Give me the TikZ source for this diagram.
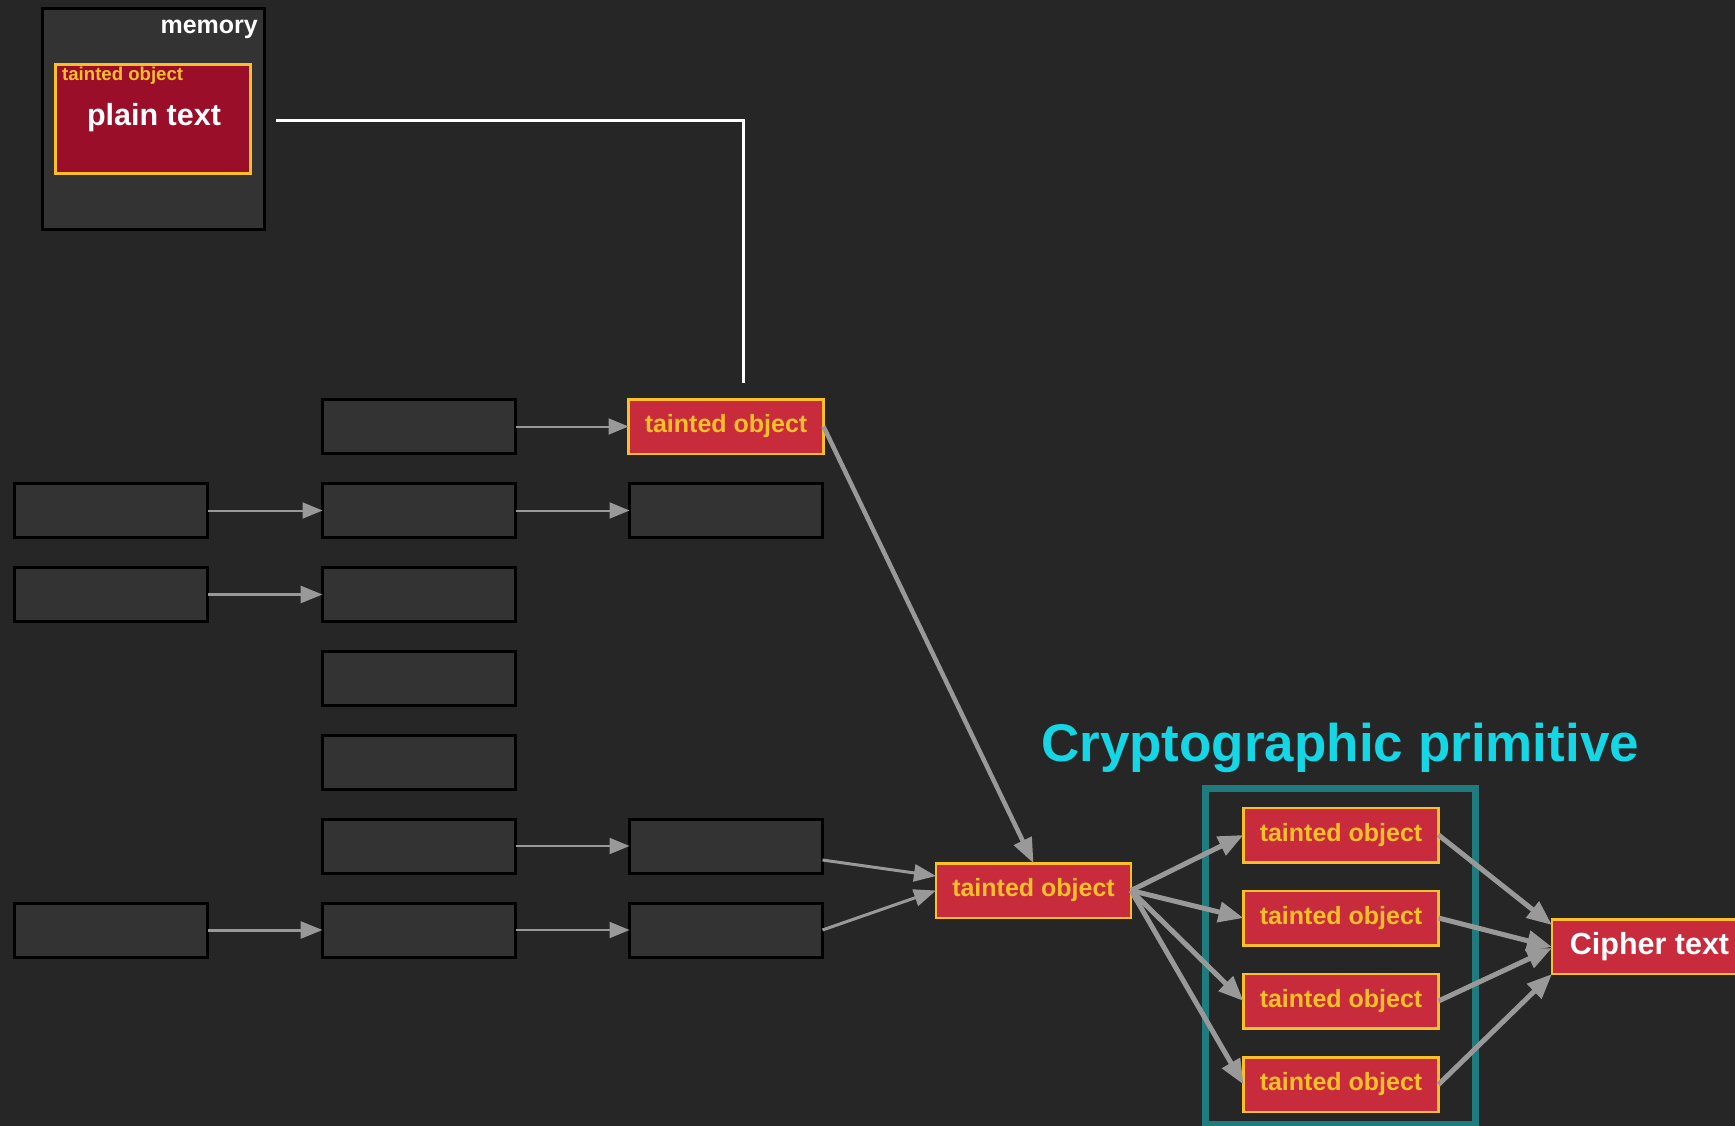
\documentclass[tikz,border=0pt]{standalone}
\usepackage{fontspec}
\setmainfont{Liberation Sans}
\usetikzlibrary{arrows.meta,calc}

\definecolor{bg}{HTML}{262626}
\definecolor{cellfill}{HTML}{333333}
\definecolor{taintred}{HTML}{C82B3B}
\definecolor{taintgold}{HTML}{FBBF2A}
\definecolor{memred}{HTML}{9B0E2A}
\definecolor{clusterteal}{HTML}{1E7B7E}
\definecolor{titlecyan}{HTML}{14D6E5}
\definecolor{edgegray}{HTML}{999999}

\begin{document}
\begin{tikzpicture}[x=1pt,y=-1pt,
  cell/.style={draw=black, line width=3pt, fill=cellfill,
    minimum width=193pt, minimum height=54pt, inner sep=0pt, outer sep=0pt},
  taint/.style={draw=taintgold, line width=2.5pt, fill=taintred, text=taintgold,
    font=\fontsize{25}{30}\selectfont\bfseries,
    minimum width=195pt, minimum height=54.5pt, inner sep=0pt, outer sep=0pt},
  thin edge/.style={draw=edgegray, line width=2pt, -{Triangle[length=20pt,width=16pt]}},
  mid edge/.style={draw=edgegray, line width=3pt, -{Triangle[length=22pt,width=17pt]}},
  thick edge/.style={draw=edgegray, line width=5pt, -{Triangle[length=25pt,width=20pt]}},
]
% canvas
\useasboundingbox (0,0) rectangle (1735,1126);
\fill[bg] (0,0) rectangle (1735,1126);

% memory block holding the plain text
\node[draw=black, line width=3pt, fill=cellfill, minimum width=222pt, minimum height=221pt,
  inner sep=0pt, outer sep=0pt] (mem) at (153.5,119) {};
\node[draw=taintgold, line width=3pt, fill=memred, minimum width=195pt, minimum height=109pt,
  inner sep=0pt, outer sep=0pt] (memobj) at (153,119) {};
\node[anchor=base east, text=white, font=\fontsize{25}{30}\selectfont\bfseries, inner sep=0pt]
  (memlabel) at (258,34) {memory};
\node[anchor=base west, text=taintgold, font=\fontsize{18.6}{22}\selectfont\bfseries, inner sep=0pt]
  (memtag) at (62,81) {tainted object};
\node[anchor=base, text=white, font=\fontsize{30.5}{36}\selectfont\bfseries, inner sep=0pt]
  (plain) at (154,126) {plain text};

% first column
\node[cell] (c12) at (111,510.5) {};
\node[cell] (c13) at (111,594.5) {};
\node[cell] (c17) at (111,930) {};

% second column
\node[cell] (c21) at (419,426.5) {};
\node[cell] (c22) at (419,510.5) {};
\node[cell] (c23) at (419,594.5) {};
\node[cell] (c24) at (419,678.5) {};
\node[cell] (c25) at (419,762.5) {};
\node[cell] (c26) at (419,846) {};
\node[cell] (c27) at (419,930) {};

% third column
\node[taint] (t1) at (726,426.5) {tainted object};
\node[cell] (c32) at (726,510.5) {};
\node[cell] (c36) at (726,846) {};
\node[cell] (c37) at (726,930) {};

% link from memory to the tainted object
\coordinate (wireStart) at (276,120.5);
\coordinate (wireEnd) at (743.5,383);
\draw[white, line width=3pt] (wireStart) -| (wireEnd);

% merging node
\node[taint] (cen) at (1033.5,890.5) {tainted object};

% cryptographic primitive cluster
\node[draw=clusterteal, line width=7pt, minimum width=270pt, minimum height=336.5pt,
  inner sep=0pt, outer sep=0pt] (cluster) at (1340.5,956.25) {};
\node[anchor=base west, text=titlecyan, font=\fontsize{53}{60}\selectfont\bfseries, inner sep=0pt]
  (title) at (1041,761) {Cryptographic primitive};
\node[taint] (p1) at (1341,835) {tainted object};
\node[taint] (p2) at (1341,918) {tainted object};
\node[taint] (p3) at (1341,1001) {tainted object};
\node[taint] (p4) at (1341,1084.5) {tainted object};

% output
\node[taint, text=white, font=\fontsize{30.5}{36}\selectfont\bfseries] (cipher) at (1649.5,946.5) {Cipher text};

% column-to-column edges
\draw[thin edge] (c12.east) -- (c22.west);
\draw[mid edge] (c13.east) -- (c23.west);
\draw[mid edge] (c17.east) -- (c27.west);
\draw[thin edge] (c21.east) -- (t1.west);
\draw[thin edge] (c22.east) -- (c32.west);
\draw[thin edge] (c26.east) -- (c36.west);
\draw[thin edge] (c27.east) -- (c37.west);

% edges into the merging node
\draw[draw=edgegray, line width=4.5pt, -{Triangle[length=25pt,width=19pt]}] (t1.east) -- (cen.north);
\draw[mid edge] ($(c36.east)+(0,14)$) -- ($(cen.west)+(0,-14.5)$);
\draw[mid edge] (c37.east) -- (cen.west);

% fan-out into the primitive
\draw[thick edge] (cen.east) -- (p1.west);
\draw[thick edge] (cen.east) -- (p2.west);
\draw[thick edge] (cen.east) -- (p3.west);
\draw[thick edge] (cen.east) -- (p4.west);

% fan-in to the cipher text
\draw[thick edge] (p1.east) -- ($(cipher.west)+(0,-21.5)$);
\draw[thick edge] (p2.east) -- ($(cipher.west)+(0,0.5)$);
\draw[thick edge] (p3.east) -- ($(cipher.west)+(0,1.5)$);
\draw[thick edge] (p4.east) -- ($(cipher.west)+(0,27.5)$);
\end{tikzpicture}
\end{document}
